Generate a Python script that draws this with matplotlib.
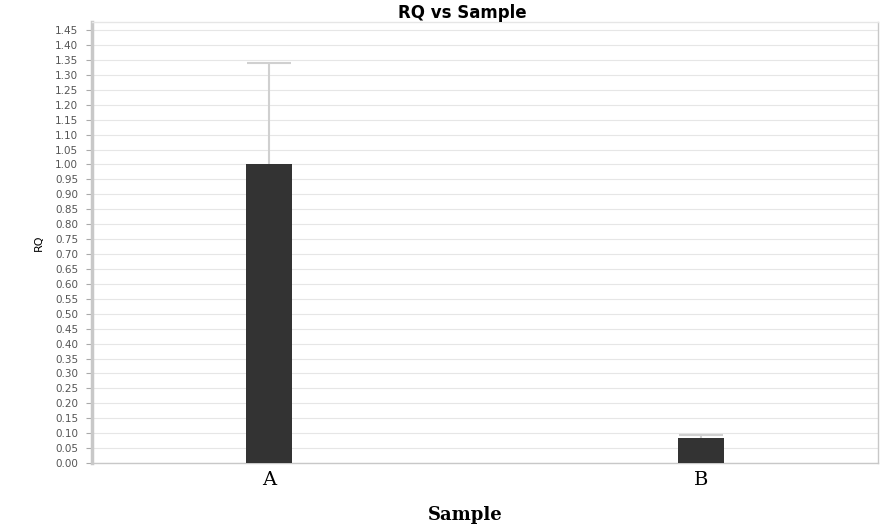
import matplotlib.pyplot as plt
import numpy as np

# Data
samples = ["A", "B"]
rq = [1.0, 0.085]
rq_err_upper = [0.34, 0.01]
y_ticks = np.round(np.arange(0, 1.46, 0.05), 2)

fig = plt.figure(figsize=(8.86, 5.31), dpi=100)
ax = fig.add_axes([0.1038, 0.128, 0.8872, 0.8305])

x = np.arange(len(samples))
tops = np.array(rq) + np.array(rq_err_upper)

# upper error bars only, light gray
ax.vlines(x, rq, tops, color="#d0d0d0", linewidth=1.5, zorder=2)
ax.hlines(tops, x - 0.05, x + 0.05, color="#d0d0d0", linewidth=1.5, zorder=2)
ax.bar(x, rq, width=0.106, color="#333333", zorder=3)

ax.set_xlim(-0.41, 1.41)
ax.set_ylim(0, 1.477)
ax.set_yticks(y_ticks)
ax.set_yticklabels([f"{v:.2f}" for v in y_ticks], fontsize=7.5, color="#555555")
ax.set_xticks(x)
ax.set_xticklabels(samples, fontsize=14, family="DejaVu Serif")

ax.grid(True, axis="y", color="#e6e6e6", linewidth=0.8, zorder=0)
ax.tick_params(axis="y", length=4, color="#aaaaaa", pad=6)
ax.tick_params(axis="x", length=0, pad=6)

for side, spine in ax.spines.items():
    spine.set_edgecolor("#c8c8c8")
    spine.set_linewidth(1)
ax.spines["left"].set_linewidth(2.5)
ax.spines["top"].set_edgecolor("#e6e6e6")

fig.text(0.522, 0.975, "RQ vs Sample", ha="center", va="center",
         fontsize=12, fontweight="bold")
ax.set_ylabel("RQ", fontsize=8, labelpad=8)
fig.text(0.525, 0.02, "Sample", ha="center", fontsize=13, fontweight="bold",
         family="DejaVu Serif")

fig.savefig("out.png", dpi=100)
